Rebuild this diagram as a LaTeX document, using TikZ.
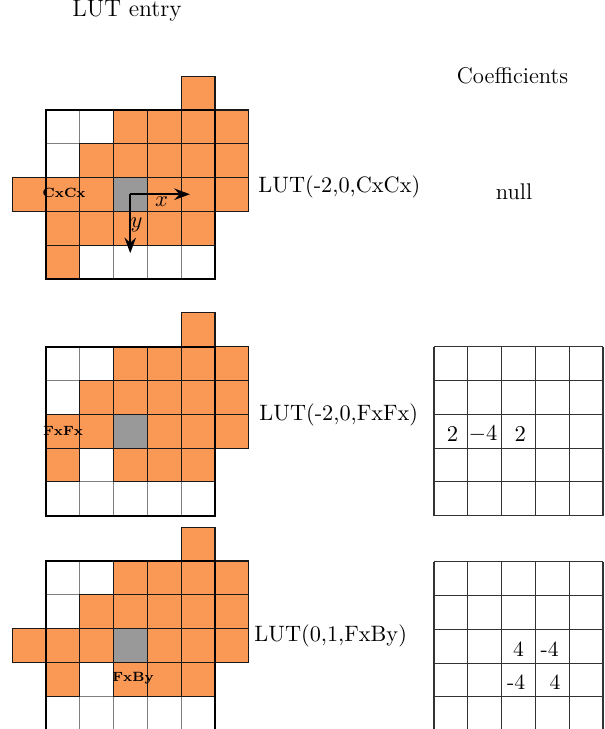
\documentclass[tikz,border=0pt]{standalone}
\usetikzlibrary{arrows.meta}
\definecolor{lutorange}{RGB}{250,152,86}
\definecolor{lutgray}{RGB}{153,153,153}
\begin{document}
\begin{tikzpicture}[x=0.485pt,y=-0.485pt,
  cellO/.style={fill=lutorange,draw=black!90,line width=0.55pt},
  cellG/.style={fill=lutgray,draw=black!90,line width=0.55pt},
  gridline/.style={draw=black!50,line width=0.55pt},
  frame/.style={draw=black,line width=1.1pt},
  coefline/.style={draw=black!80,line width=0.55pt},
  title/.style={font=\fontsize{11}{13}\selectfont,anchor=base,inner sep=0pt},
  lutlabel/.style={font=\fontsize{10.8}{13}\selectfont,anchor=base west,inner sep=0pt},
  tag/.style={font=\fontsize{6.5}{7}\selectfont\bfseries,anchor=base,inner sep=0pt},
  coef/.style={font=\fontsize{10.5}{12}\selectfont,inner sep=0pt},
  axis/.style={line width=1.2pt,-{Stealth[length=7.5pt,width=5.5pt]}}
]
\useasboundingbox (0,0) rectangle (604,729);
\clip (0,0) rectangle (604,729);

% ---------- titles ----------
\node[title,font=\fontsize{11.5}{13}\selectfont] (t1) at (127,17) {LUT entry};
\node[title] (t2) at (512.5,84) {Coefficients};
\node[title] (null) at (514,200) {null};

% ---------- LUT grid 1 ----------
\begin{scope}[shift={(46,110)},scale=33.8]
  \foreach \i in {0,...,5} {\draw[gridline] (\i,0) -- (\i,5); \draw[gridline] (0,\i) -- (5,\i);}
  \foreach \c/\r in {4/-1,2/0,3/0,4/0,5/0,1/1,2/1,3/1,4/1,5/1,-1/2,0/2,1/2,3/2,4/2,5/2,0/3,1/3,2/3,3/3,4/3,0/4}
    \filldraw[cellO] (\c,\r) rectangle ++(1,1);
  \filldraw[cellG] (2,2) rectangle ++(1,1);
  \draw[frame] (0,0) rectangle (5,5);
  \coordinate (o1) at (2.5,2.5);
  \coordinate (xe) at (4.27,2.5);
  \coordinate (ye) at (2.5,4.25);
  \draw[axis] (o1) -- (xe);
  \draw[axis] (o1) -- (ye);
  \node[font=\fontsize{10.8}{12}\selectfont,inner sep=0pt] (xl) at (3.42,2.72) {$x$};
  \node[font=\fontsize{10.8}{12}\selectfont,inner sep=0pt] (yl) at (2.68,3.4) {$y$};
\end{scope}
\node[tag] (tag1) at (64,197.5) {CxCx};
\node[lutlabel] (l1) at (258,192.7) {LUT(-2,0,CxCx)};

% ---------- LUT grid 2 ----------
\begin{scope}[shift={(46,346.7)},scale=33.8]
  \foreach \i in {0,...,5} {\draw[gridline] (\i,0) -- (\i,5); \draw[gridline] (0,\i) -- (5,\i);}
  \foreach \c/\r in {4/-1,2/0,3/0,4/0,5/0,1/1,2/1,3/1,4/1,5/1,0/2,1/2,3/2,4/2,5/2,0/3,2/3,3/3,4/3}
    \filldraw[cellO] (\c,\r) rectangle ++(1,1);
  \filldraw[cellG] (2,2) rectangle ++(1,1);
  \draw[frame] (0,0) rectangle (5,5);
\end{scope}
\node[tag] (tag2) at (63,435) {FxFx};
\node[lutlabel] (l2) at (259,420.7) {LUT(-2,0,FxFx)};

% ---------- LUT grid 3 ----------
\begin{scope}[shift={(46,561)},scale=33.8]
  \foreach \i in {0,...,5} {\draw[gridline] (\i,0) -- (\i,5); \draw[gridline] (0,\i) -- (5,\i);}
  \foreach \c/\r in {4/-1,2/0,3/0,4/0,5/0,1/1,2/1,3/1,4/1,5/1,-1/2,0/2,1/2,3/2,4/2,5/2,0/3,2/3,3/3,4/3}
    \filldraw[cellO] (\c,\r) rectangle ++(1,1);
  \filldraw[cellG] (2,2) rectangle ++(1,1);
  \draw[frame] (0,0) rectangle (5,5);
\end{scope}
\node[tag] (tag3) at (133,681.5) {FxBy};
\node[lutlabel] (l3) at (254,641.7) {LUT(0,1,FxBy)};

% ---------- coefficient grid 2 ----------
\begin{scope}[shift={(434,346.7)},scale=33.8]
  \foreach \i in {0,...,5} {\draw[coefline] (\i,0) -- (\i,5); \draw[coefline] (0,\i) -- (5,\i);}
  \node[coef] (c21) at (0.55,2.58) {$2$};
  \node[coef] (c22) at (1.45,2.58) {$-4$};
  \node[coef] (c23) at (2.55,2.58) {$2$};
\end{scope}

% ---------- coefficient grid 3 ----------
\begin{scope}[shift={(434,561.7)},scale=33.8]
  \foreach \i in {0,...,5} {\draw[coefline] (\i,0) -- (\i,5); \draw[coefline] (0,\i) -- (5,\i);}
  \node[coef] (c31) at (2.5,2.58) {4};
  \node[coef] (c32) at (3.42,2.58) {-4};
  \node[coef] (c33) at (2.43,3.57) {-4};
  \node[coef] (c34) at (3.58,3.57) {4};
\end{scope}
\end{tikzpicture}
\end{document}
